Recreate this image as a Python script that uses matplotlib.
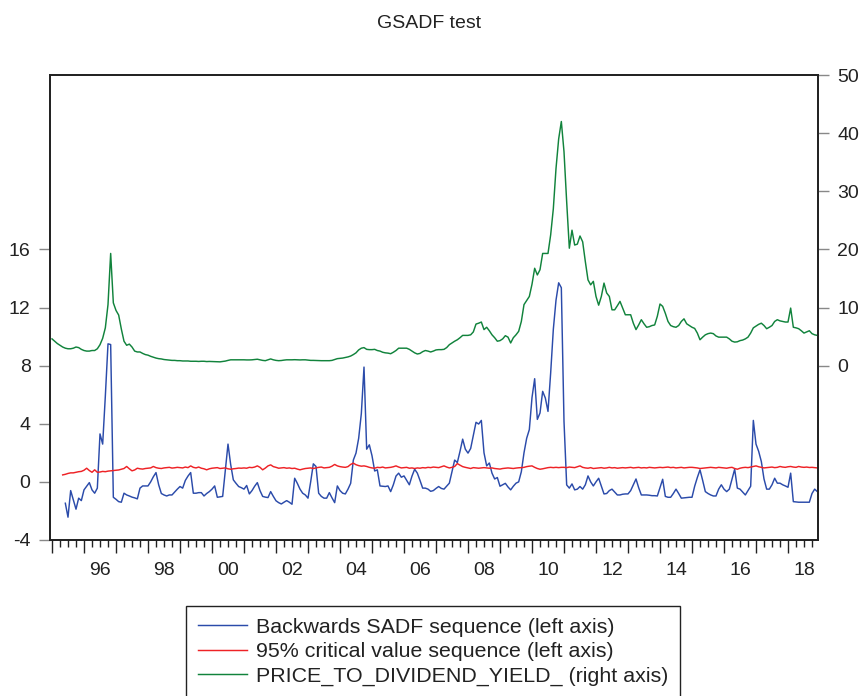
import numpy as np
import matplotlib
matplotlib.use("Agg")
import matplotlib.pyplot as plt
from matplotlib.ticker import FixedLocator, FixedFormatter, NullFormatter

plt.rcParams['font.family'] = ['Liberation Sans', 'DejaVu Sans']

start_year = 1995
n_months = 288

nan = np.nan
# Backwards SADF sequence (left axis), monthly 1995-01 .. 2018-12
bsadf = [
    nan, nan, nan, nan, nan, -1.47, -2.43, -0.6, -1.24, -1.88, -1.12, -1.29,
    -0.55, -0.3, -0.05, -0.55, -0.78, -0.43, 3.3, 2.6, 5.9, 9.5, 9.45, -1.06,
    -1.2, -1.36, -1.4, -0.78, -0.9, -0.97, -1.05, -1.1, -1.17, -0.43, -0.28, -0.28,
    -0.28, 0.0, 0.35, 0.64, -0.2, -0.8, -0.9, -0.97, -0.9, -0.9, -0.7, -0.5,
    -0.32, -0.43, 0.1, 0.4, 0.64, -0.78, -0.78, -0.74, -0.74, -0.97, -0.8, -0.67,
    -0.5, -0.28, -1.06, -1.03, -1.0, 0.8, 2.6, 1.2, 0.14, -0.1, -0.32, -0.4,
    -0.5, -0.25, -0.83, -0.6, -0.3, -0.05, -0.6, -1.0, -1.05, -1.08, -0.67, -1.0,
    -1.3, -1.43, -1.52, -1.4, -1.29, -1.4, -1.54, 0.25, -0.1, -0.5, -0.78, -0.9,
    -1.12, 0.0, 1.24, 1.06, -0.78, -1.0, -1.12, -1.12, -0.74, -1.1, -1.43, -0.28,
    -0.6, -0.78, -0.83, -0.5, -0.1, 1.5, 1.98, 3.0, 4.7, 7.9, 2.25, 2.55,
    1.8, 0.75, 0.83, -0.28, -0.3, -0.32, -0.28, -0.67, -0.2, 0.4, 0.6, 0.32,
    0.41, 0.1, -0.2, 0.4, 0.87, 0.6, 0.1, -0.43, -0.43, -0.5, -0.65, -0.6,
    -0.45, -0.32, -0.45, -0.5, -0.3, -0.09, 0.7, 1.5, 1.33, 2.1, 2.94, 2.25,
    1.98, 2.3, 3.2, 4.1, 3.98, 4.23, 2.0, 1.1, 1.3, 0.6, 0.2, 0.3,
    -0.3, -0.2, -0.1, -0.35, -0.55, -0.3, -0.09, 0.0, 0.7, 2.0, 3.0, 3.6,
    5.8, 7.1, 4.3, 4.74, 6.23, 5.77, 4.85, 7.5, 10.5, 12.5, 13.7, 13.36,
    4.16, -0.21, -0.43, -0.14, -0.55, -0.5, -0.32, -0.5, -0.2, 0.41, 0.0, -0.28,
    0.0, 0.25, -0.3, -0.83, -0.8, -0.6, -0.5, -0.7, -0.9, -0.9, -0.85, -0.83,
    -0.83, -0.6, -0.2, 0.2, -0.4, -0.9, -0.9, -0.9, -0.92, -0.95, -0.95, -0.97,
    -0.4, 0.18, -1.0, -1.06, -1.06, -0.8, -0.5, -0.8, -1.12, -1.1, -1.08, -1.06,
    -1.06, -0.3, 0.3, 0.83, 0.1, -0.67, -0.8, -0.9, -0.97, -0.97, -0.5, -0.2,
    -0.5, -0.67, -0.5, 0.2, 0.87, -0.43, -0.5, -0.7, -0.9, -0.6, -0.3, 4.23,
    2.6, 2.1, 1.4, 0.2, -0.5, -0.5, -0.2, 0.25, -0.09, -0.09, -0.2, -0.28,
    -0.37, 0.6, -1.36, -1.38, -1.4, -1.4, -1.4, -1.4, -1.4, -0.8, -0.5, -0.67,
]

# 95% critical value sequence (left axis)
cv95 = [
    nan, nan, nan, nan, 0.48, 0.52, 0.58, 0.62, 0.62, 0.66, 0.70, 0.72,
    0.80, 0.94, 0.78, 0.66, 0.83, 0.66, 0.68, 0.72, 0.70, 0.74, 0.76, 0.78,
    0.80, 0.82, 0.87, 0.92, 1.06, 0.90, 0.76, 0.82, 0.94, 0.90, 0.88, 0.92,
    0.94, 0.96, 1.06, 0.98, 0.94, 0.92, 0.96, 0.98, 1.00, 0.95, 0.97, 1.00,
    0.98, 0.96, 1.02, 0.98, 1.10, 1.00, 0.96, 1.02, 0.94, 0.90, 0.83, 0.90,
    0.94, 0.96, 0.98, 0.92, 0.94, 0.96, 0.90, 0.87, 0.90, 0.92, 0.95, 0.94,
    0.96, 0.94, 1.00, 0.98, 1.02, 1.10, 1.00, 0.83, 0.95, 1.10, 1.17, 1.05,
    1.00, 0.94, 0.96, 0.98, 0.94, 0.96, 0.92, 0.94, 0.88, 0.83, 0.88, 0.92,
    0.94, 0.96, 0.92, 0.96, 1.00, 1.02, 0.96, 0.98, 1.00, 1.08, 1.20, 1.10,
    1.05, 1.02, 1.00, 1.05, 1.20, 1.29, 1.18, 1.12, 1.08, 1.10, 1.06, 1.00,
    0.96, 0.94, 1.00, 0.98, 1.02, 0.96, 0.98, 1.00, 1.04, 1.10, 1.02, 0.96,
    0.98, 1.00, 0.94, 0.96, 0.92, 0.96, 0.94, 0.98, 0.96, 1.00, 0.98, 1.02,
    1.00, 0.98, 1.04, 1.10, 1.02, 0.96, 1.00, 1.06, 1.26, 1.15, 1.05, 1.00,
    0.96, 0.92, 0.98, 0.96, 0.94, 0.96, 0.98, 0.96, 0.94, 0.96, 0.92, 0.90,
    0.88, 0.92, 0.94, 0.96, 0.94, 0.92, 0.95, 0.97, 0.98, 1.00, 1.05, 1.08,
    1.10, 1.00, 0.92, 0.87, 0.90, 0.94, 0.98, 1.00, 0.98, 1.00, 0.98, 1.00,
    1.00, 0.98, 1.02, 1.00, 0.98, 1.04, 1.10, 1.00, 0.96, 0.94, 0.98, 0.92,
    0.94, 0.96, 0.98, 0.94, 0.96, 1.00, 0.96, 0.98, 0.94, 0.96, 0.98, 0.96,
    0.98, 1.00, 0.96, 0.98, 1.00, 0.96, 0.98, 0.96, 1.00, 0.98, 0.96, 0.98,
    1.00, 0.98, 1.00, 1.02, 0.98, 1.00, 0.96, 0.98, 1.00, 0.96, 0.98, 1.00,
    1.00, 0.98, 0.96, 0.92, 0.94, 0.96, 0.98, 1.00, 0.98, 0.96, 1.00, 0.98,
    0.96, 0.94, 0.98, 1.00, 0.92, 0.87, 0.94, 0.98, 1.00, 0.98, 1.02, 1.06,
    1.10, 1.04, 1.00, 0.96, 0.98, 1.00, 1.02, 0.98, 1.00, 1.06, 1.02, 1.00,
    1.04, 1.06, 1.02, 1.00, 1.06, 1.02, 1.00, 1.02, 0.99, 1.00, 0.98, 0.96,
]

# PRICE_TO_DIVIDEND_YIELD_ (right axis)
pdy = [
    4.6, 4.2, 3.8, 3.5, 3.2, 3.0, 2.9, 2.9, 3.0, 3.2, 3.1, 2.8,
    2.6, 2.5, 2.5, 2.6, 2.6, 2.9, 3.6, 4.7, 6.5, 10.5, 19.3, 10.8,
    9.5, 8.7, 6.3, 4.2, 3.5, 3.7, 3.2, 2.5, 2.35, 2.35, 2.1, 1.9,
    1.8, 1.6, 1.45, 1.3, 1.2, 1.15, 1.05, 1.0, 0.95, 0.9, 0.9, 0.85,
    0.85, 0.8, 0.8, 0.8, 0.75, 0.75, 0.75, 0.72, 0.75, 0.75, 0.7, 0.72,
    0.7, 0.68, 0.65, 0.65, 0.72, 0.78, 0.9, 1.0, 1.0, 1.0, 1.0, 1.0,
    1.0, 0.98, 0.98, 1.0, 1.05, 1.1, 1.0, 0.9, 0.85, 1.0, 1.15, 1.0,
    0.9, 0.85, 0.88, 0.95, 1.0, 1.0, 1.0, 1.02, 1.0, 0.98, 1.0, 1.0,
    0.95, 0.9, 0.9, 0.88, 0.85, 0.85, 0.85, 0.85, 0.85, 0.9, 1.05, 1.2,
    1.25, 1.3, 1.4, 1.5, 1.65, 1.9, 2.2, 2.7, 3.0, 3.1, 2.8, 2.75,
    2.75, 2.8, 2.6, 2.5, 2.3, 2.2, 2.15, 2.05, 2.3, 2.6, 3.0, 3.0,
    3.0, 3.0, 2.8, 2.5, 2.2, 2.0, 2.1, 2.4, 2.6, 2.5, 2.35, 2.5,
    2.7, 2.75, 2.75, 2.8, 3.1, 3.6, 3.9, 4.2, 4.45, 4.8, 5.2, 5.2,
    5.2, 5.3, 5.8, 7.15, 7.3, 7.5, 6.2, 6.6, 6.0, 5.3, 4.8, 4.2,
    4.3, 4.6, 5.15, 4.9, 3.9, 4.8, 5.3, 5.9, 7.6, 10.5, 11.2, 11.9,
    14.0, 16.75, 15.6, 16.5, 19.3, 19.3, 19.3, 22.5, 27.0, 33.9, 39.0, 42.0,
    36.8, 28.2, 20.2, 23.3, 20.75, 20.9, 22.3, 21.3, 17.9, 14.75, 13.9, 14.5,
    11.9, 10.4, 11.9, 14.2, 12.5, 11.9, 9.6, 9.6, 10.3, 11.05, 9.9, 8.75,
    8.75, 8.75, 7.3, 6.2, 7.0, 7.9, 7.2, 6.6, 6.7, 6.9, 7.0, 8.5,
    10.6, 10.2, 9.0, 7.6, 6.9, 6.7, 6.6, 6.9, 7.6, 8.05, 7.2, 6.9,
    6.6, 6.4, 5.6, 4.45, 4.9, 5.3, 5.5, 5.6, 5.5, 5.1, 4.9, 4.9,
    4.9, 4.9, 4.6, 4.2, 4.05, 4.1, 4.3, 4.4, 4.6, 4.9, 5.6, 6.5,
    6.8, 7.1, 7.3, 6.9, 6.35, 6.6, 6.9, 7.6, 7.9, 7.7, 7.6, 7.5,
    7.5, 9.9, 6.6, 6.5, 6.35, 6.0, 5.6, 5.8, 6.0, 5.5, 5.3, 5.2,
]

left_ticks = [-4, 0, 4, 8, 12, 16]
right_ticks = [0, 10, 20, 30, 40, 50]
year_labels = ['96', '98', '00', '02', '04', '06', '08', '10', '12', '14', '16', '18']
label_years = [1996, 1998, 2000, 2002, 2004, 2006, 2008, 2010, 2012, 2014, 2016, 2018]

names = ['Backwards SADF sequence (left axis)',
         '95% critical value sequence (left axis)',
         'PRICE_TO_DIVIDEND_YIELD_ (right axis)']

t = start_year + np.arange(n_months) / 12.0

W, H = 859, 696
fig = plt.figure(figsize=(W / 100, H / 100), dpi=100)
ax = fig.add_axes([50 / W, 1 - 540 / H, 768 / W, 465 / H])
ax2 = ax.twinx()

c_blue = '#2B4BAA'
c_red = '#EE2226'
c_green = '#11833C'

l1, = ax.plot(t, np.array(bsadf, dtype=float), color=c_blue, lw=1.05)
l2, = ax.plot(t, np.array(cv95, dtype=float), color=c_red, lw=1.05)
l3, = ax2.plot(t, np.array(pdy, dtype=float), color=c_green, lw=1.05)

ax.set_xlim(1994.9375, 2018.9375)
ax.set_ylim(-4, 28)
ax2.set_ylim(-30, 50)

ax.set_yticks(left_ticks)
ax.set_yticklabels([str(v) for v in left_ticks])
ax2.set_yticks(right_ticks)
ax2.set_yticklabels([str(v) for v in right_ticks])

years = np.arange(1995, 2019)
ax.xaxis.set_major_locator(FixedLocator(years))
ax.xaxis.set_major_formatter(NullFormatter())
minor_pos = []
minor_lab = []
for y in years:
    for q in (0.25, 0.5, 0.75):
        minor_pos.append(y + q)
        if q == 0.5 and y in label_years:
            minor_lab.append(year_labels[label_years.index(y)])
        else:
            minor_lab.append('')
ax.xaxis.set_minor_locator(FixedLocator(minor_pos))
ax.xaxis.set_minor_formatter(FixedFormatter(minor_lab))

tc = '#222222'
ax.tick_params(axis='x', which='major', direction='out', length=9, width=1, color=tc)
ax.tick_params(axis='x', which='minor', direction='out', length=5, width=1, color=tc,
               labelsize=14, labelcolor=tc, pad=11)
ax.tick_params(axis='y', direction='out', length=8, width=1, color='#888888',
               labelsize=14, labelcolor=tc, pad=6)
ax2.tick_params(axis='y', direction='out', length=8, width=1, color='#888888',
                labelsize=14, labelcolor=tc, pad=6)
ax2.tick_params(axis='x', which='both', bottom=False, top=False, labelbottom=False)

for a in (ax, ax2):
    for s in a.spines.values():
        s.set_color('#222222')
        s.set_linewidth(1.3)

fig.text(0.5, 1 - 23 / H, 'GSADF test', ha='center', va='center', fontsize=14, color=tc)

leg = fig.legend([l1, l2, l3], names, loc='upper left',
                 bbox_to_anchor=(186 / W, 1 - 606 / H), borderaxespad=0,
                 fontsize=15.4, frameon=True, fancybox=False, framealpha=1,
                 edgecolor='#222222', handlelength=2.3, handletextpad=0.42,
                 labelspacing=0.25, borderpad=0.55)
leg.get_frame().set_linewidth(1.0)
for txt in leg.get_texts():
    txt.set_color(tc)

fig.savefig('out.png', dpi=100)
